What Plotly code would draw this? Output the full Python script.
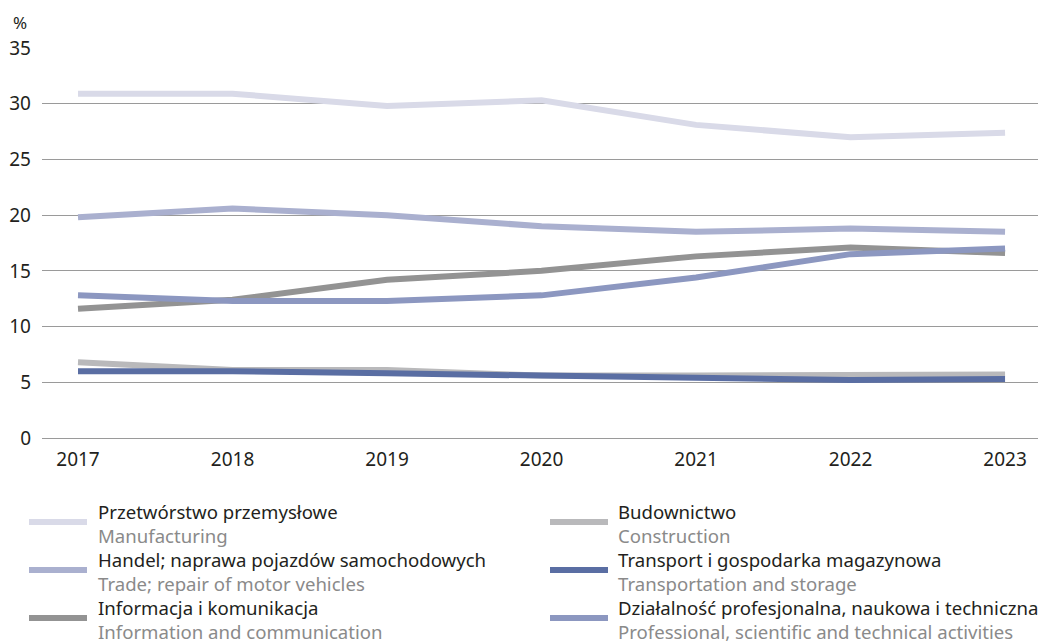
import plotly.graph_objects as go

years = [2017, 2018, 2019, 2020, 2021, 2022, 2023]

manufacturing = [30.9, 30.9, 29.8, 30.3, 28.1, 27.0, 27.4]
trade = [19.8, 20.6, 20.0, 19.0, 18.5, 18.8, 18.5]
information = [11.6, 12.4, 14.2, 15.0, 16.3, 17.1, 16.6]
construction = [6.8, 6.1, 6.1, 5.6, 5.6, 5.6, 5.7]
transport = [6.0, 6.0, 5.8, 5.6, 5.4, 5.2, 5.3]
professional = [12.8, 12.3, 12.3, 12.8, 14.4, 16.5, 17.0]

names_pl = ["Przetwórstwo przemysłowe", "Handel; naprawa pojazdów samochodowych",
            "Informacja i komunikacja", "Budownictwo",
            "Transport i gospodarka magazynowa",
            "Działalność profesjonalna, naukowa i techniczna"]
names_en = ["Manufacturing", "Trade; repair of motor vehicles",
            "Information and communication", "Construction",
            "Transportation and storage",
            "Professional, scientific and technical activities"]
colors = ["#d9dae8", "#aab0cf", "#939393", "#b9b9bb", "#5a6ea3", "#8c97c0"]
series = [manufacturing, trade, information, construction, transport, professional]

y_ticks = [0, 5, 10, 15, 20, 25, 30, 35]

FONT = "Noto Sans"
OFF = 8  # page body margin
W, H = 1046 - OFF, 644 - OFF
ML, MT, MR = 42 - OFF, 48 - OFF, 0
PB = 438 - OFF  # plot bottom in figure px
MB = H - PB
PW = W - ML - MR
PH = PB - MT


def px(xw):
    return (xw - OFF - ML) / PW


def py(yw):
    return (PB - (yw - OFF)) / PH


fig = go.Figure()

draw_order = [0, 1, 3, 2, 4, 5]
for i in draw_order:
    fig.add_trace(go.Scatter(
        x=years, y=series[i], mode="lines", name=names_pl[i],
        line=dict(color=colors[i], width=6), showlegend=False, cliponaxis=False))

# custom legend (two columns, three rows)
col_x = [29, 550]
text_x = [96, 616]
row_y0 = 510
row_step = 48
for idx in range(6):
    col = idx // 3
    row = idx % 3
    ty = row_y0 + row * row_step
    sy = ty + 12
    fig.add_shape(type="line", xref="paper", yref="paper",
                  x0=px(col_x[col]), x1=px(col_x[col] + 58),
                  y0=py(sy), y1=py(sy),
                  line=dict(color=colors[idx], width=6))
    fig.add_annotation(xref="paper", yref="paper",
                       x=px(text_x[col]), y=py(ty - 13),
                       xanchor="left", yanchor="top", showarrow=False, align="left",
                       text=(f"<span style='color:#231f20'>{names_pl[idx]}</span><br>"
                             f"<span style='color:#8a8a8a'>{names_en[idx]}</span>"),
                       font=dict(family=FONT, size=18.6))

fig.add_annotation(xref="paper", yref="paper", x=px(20), y=py(22),
                   text="%", showarrow=False, xanchor="center", yanchor="middle",
                   font=dict(family=FONT, size=17, color="#231f20"))

fig.update_layout(
    width=W, height=H,
    margin=dict(l=ML, r=MR, t=MT, b=MB, pad=0),
    plot_bgcolor="white", paper_bgcolor="white",
    font=dict(family=FONT, size=19, color="#231f20"),
    xaxis=dict(range=[2016.767, 2023.265], tickvals=years, showgrid=False,
               zeroline=False, showline=False, ticks="", ticklabelstandoff=8),
    yaxis=dict(range=[0, 35], tickvals=y_ticks, showgrid=True, gridcolor="#9a9a9a",
               gridwidth=1, zeroline=True, zerolinecolor="#9a9a9a", zerolinewidth=1,
               showline=False, ticks="", ticklabelstandoff=10),
    showlegend=False,
)

fig.write_html("out.html")
